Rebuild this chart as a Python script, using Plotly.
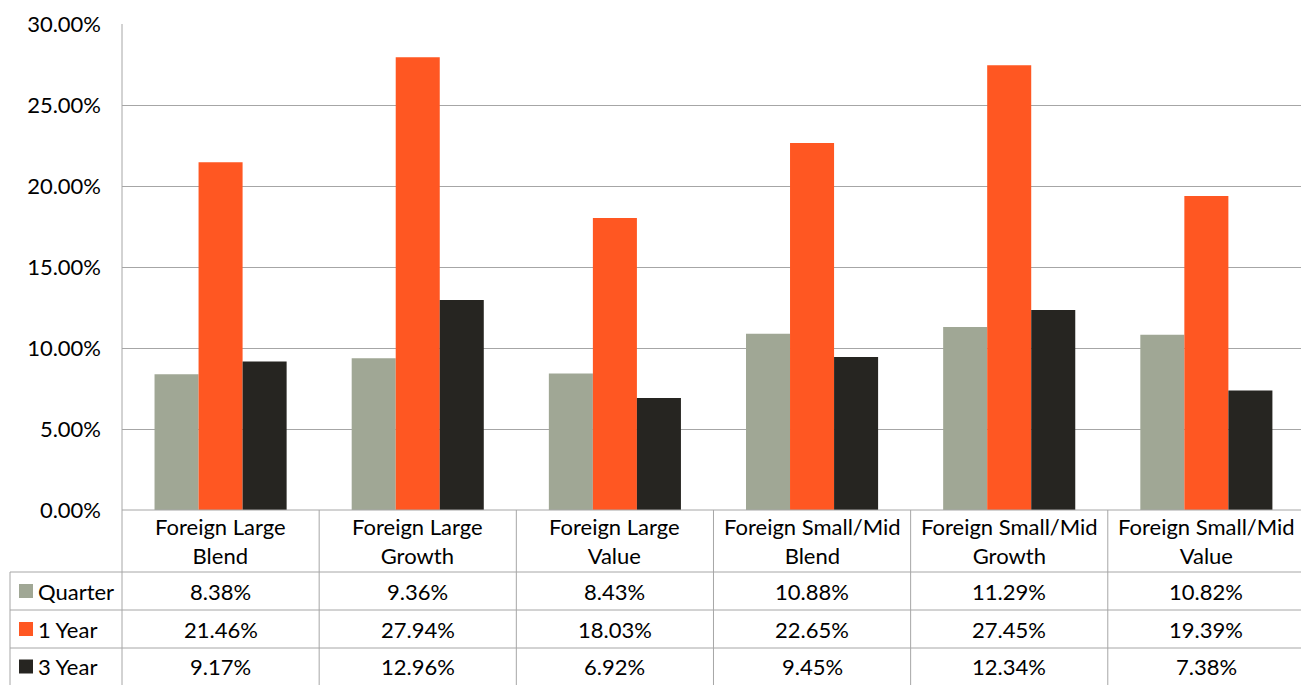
import plotly.graph_objects as go

# Category labels (two lines each, as shown in the table header)
categories = [
    "Foreign Large<br>Blend",
    "Foreign Large<br>Growth",
    "Foreign Large<br>Value",
    "Foreign Small/Mid<br>Blend",
    "Foreign Small/Mid<br>Growth",
    "Foreign Small/Mid<br>Value",
]

# Returns in percent
quarter = [8.38, 9.36, 8.43, 10.88, 11.29, 10.82]
one_year = [21.46, 27.94, 18.03, 22.65, 27.45, 19.39]
three_year = [9.17, 12.96, 6.92, 9.45, 12.34, 7.38]

series_names = ["Quarter", "1 Year", "3 Year"]
series_values = [quarter, one_year, three_year]
series_colors = ["#a0a795", "#ff5722", "#262521"]

y_ticks = [0, 5, 10, 15, 20, 25, 30]

W, H = 1301, 685
FONT = "Lato"
FS = 22
GRID = "#a6a6a6"

# Pixel layout of the plot area
PLOT_L, PLOT_R = 122, W
PLOT_T, PLOT_B = 24, 510
X_LO, X_HI = -0.5, 5.48

# Table rows (pixel y of boundaries)
ROW_HEADER_B = 572
ROW_B = [610, 648, H]
LEGEND_L = 10


def px_x(v):
    return v / W


def px_y(v):
    return (H - v) / H


def data_x_to_px(xv):
    return PLOT_L + (xv - X_LO) / (X_HI - X_LO) * (PLOT_R - PLOT_L)


fig = go.Figure()
for name, vals, col in zip(series_names, series_values, series_colors):
    fig.add_trace(go.Bar(
        x=list(range(len(categories))),
        y=vals,
        name=name,
        marker=dict(color=col, line=dict(width=0)),
        hoverinfo="skip",
    ))

shapes = []
annotations = []
line = dict(color=GRID, width=1)

# Left border of the plot area, running down through the table
shapes.append(dict(type="line", xref="paper", yref="paper",
                   x0=px_x(PLOT_L), x1=px_x(PLOT_L), y0=px_y(PLOT_T), y1=px_y(H), line=line))
# Baseline / top of table header
shapes.append(dict(type="line", xref="paper", yref="paper",
                   x0=px_x(PLOT_L), x1=1, y0=px_y(PLOT_B), y1=px_y(PLOT_B), line=line))
# Row separators
for yb in [ROW_HEADER_B] + ROW_B[:-1]:
    shapes.append(dict(type="line", xref="paper", yref="paper",
                       x0=px_x(LEGEND_L), x1=1, y0=px_y(yb), y1=px_y(yb), line=line))
# Legend column left edge
shapes.append(dict(type="line", xref="paper", yref="paper",
                   x0=px_x(LEGEND_L), x1=px_x(LEGEND_L), y0=px_y(ROW_HEADER_B), y1=px_y(H), line=line))
# Column separators between categories
for i in range(1, len(categories) + 1):
    xb = data_x_to_px(i - 0.5)
    if xb < W:
        shapes.append(dict(type="line", xref="paper", yref="paper",
                           x0=px_x(xb), x1=px_x(xb), y0=px_y(PLOT_B), y1=px_y(H), line=line))

# Header labels
for i, cat in enumerate(categories):
    cx = data_x_to_px(i)
    annotations.append(dict(xref="paper", yref="paper", x=px_x(cx), y=px_y((PLOT_B + ROW_HEADER_B) / 2),
                            text=cat, showarrow=False, xanchor="center", yanchor="middle",
                            font=dict(family=FONT, size=FS, color="#000")))

# Value rows with legend keys
row_tops = [ROW_HEADER_B] + ROW_B[:-1]
for r, (name, vals, col) in enumerate(zip(series_names, series_values, series_colors)):
    cy = (row_tops[r] + ROW_B[r]) / 2
    shapes.append(dict(type="rect", xref="paper", yref="paper",
                       x0=px_x(19), x1=px_x(33), y0=px_y(cy - 7), y1=px_y(cy + 7),
                       fillcolor=col, line=dict(width=0)))
    annotations.append(dict(xref="paper", yref="paper", x=px_x(36), y=px_y(cy),
                            text=name, showarrow=False, xanchor="left", yanchor="middle",
                            font=dict(family=FONT, size=FS, color="#000")))
    for i, v in enumerate(vals):
        cx = data_x_to_px(i)
        annotations.append(dict(xref="paper", yref="paper", x=px_x(cx), y=px_y(cy),
                                text=f"{v:.2f}%", showarrow=False, xanchor="center", yanchor="middle",
                                font=dict(family=FONT, size=FS, color="#000")))

fig.update_layout(
    width=W, height=H,
    margin=dict(l=0, r=0, t=0, b=0, autoexpand=False),
    paper_bgcolor="white",
    plot_bgcolor="white",
    barmode="group",
    bargap=0.33,
    bargroupgap=0,
    showlegend=False,
    font=dict(family=FONT, size=FS, color="#000"),
    xaxis=dict(domain=[px_x(PLOT_L), 1], range=[X_LO, X_HI], showticklabels=False,
               showgrid=False, zeroline=False, showline=False, fixedrange=True, automargin=False),
    yaxis=dict(domain=[px_y(PLOT_B), px_y(PLOT_T)], range=[0, 30], automargin=False,
               tickvals=y_ticks, ticktext=[f"{t:.2f}%" for t in y_ticks],
               showgrid=True, gridcolor=GRID, gridwidth=1, zeroline=False, showline=False,
               ticks="", ticklabelstandoff=20, tickfont=dict(family=FONT, size=FS, color="#000")),
    shapes=shapes,
    annotations=annotations,
)

fig.write_html("out.html")
